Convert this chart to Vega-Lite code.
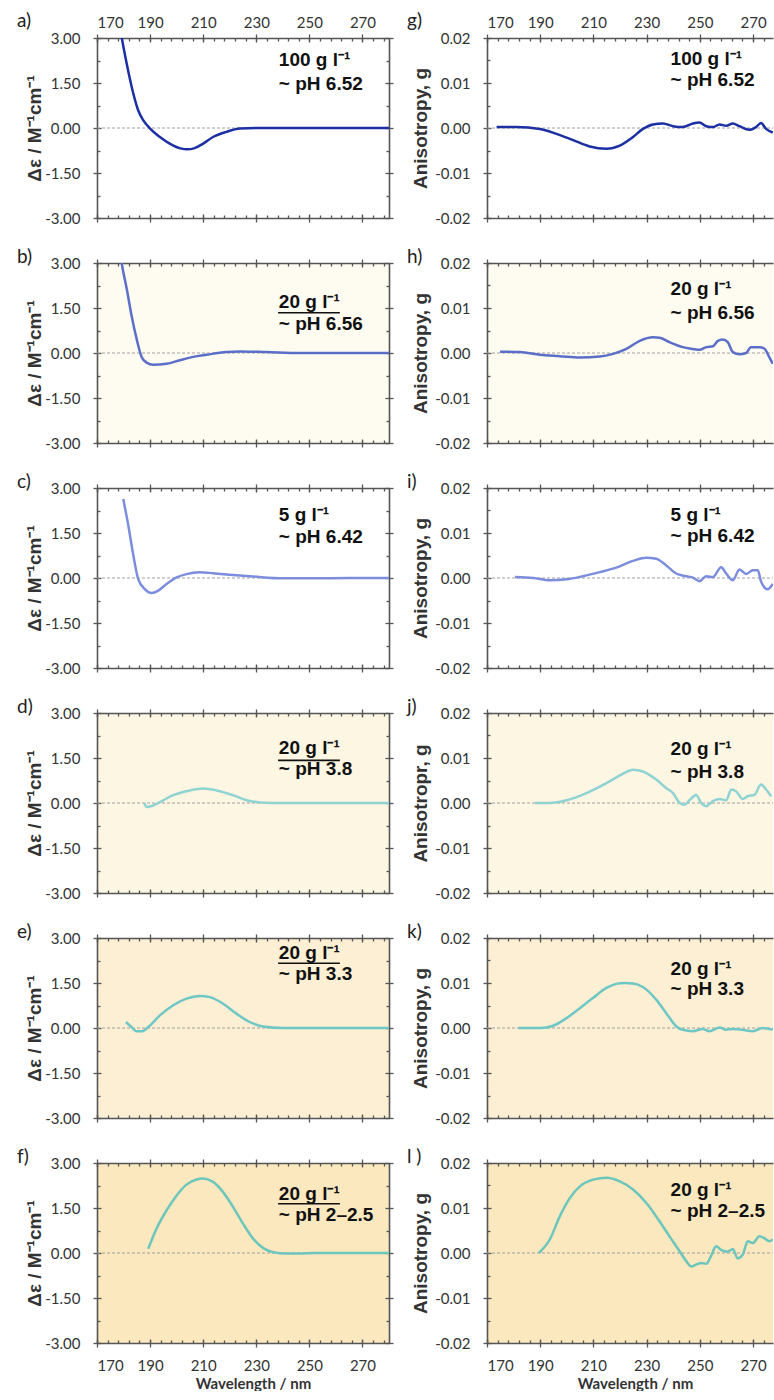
{
"$schema": "https://vega.github.io/schema/vega-lite/v6.json",
"background": "white",
"padding": {"left": 17, "top": 12, "right": 0, "bottom": 0},
"autosize": {"type": "pad"},
"columns": 2,
"spacing": {"row": 45, "column": 98},
"bounds": "flush",
"datasets": {
"a": [{"wl":178.8,"v":3.3},{"wl":179.3,"v":3.03},{"wl":181.2,"v":2.14},{"wl":183.7,"v":1.14},{"wl":185.5,"v":0.59},{"wl":187.4,"v":0.26},{"wl":190,"v":-0.02},{"wl":193.7,"v":-0.3},{"wl":197.4,"v":-0.52},{"wl":201.5,"v":-0.68},{"wl":204,"v":-0.71},{"wl":206.5,"v":-0.68},{"wl":210,"v":-0.52},{"wl":213.7,"v":-0.3},{"wl":218.7,"v":-0.13},{"wl":223.8,"v":-0.02},{"wl":230,"v":0},{"wl":240,"v":0},{"wl":250,"v":0},{"wl":260,"v":0},{"wl":270,"v":0},{"wl":280,"v":0}],
"b": [{"wl":178.8,"v":3.3},{"wl":179.3,"v":3.0},{"wl":181.2,"v":2.14},{"wl":183.0,"v":1.26},{"wl":184.9,"v":0.48},{"wl":186.8,"v":-0.13},{"wl":188.7,"v":-0.32},{"wl":191.2,"v":-0.39},{"wl":196.2,"v":-0.36},{"wl":201.2,"v":-0.24},{"wl":206.2,"v":-0.13},{"wl":211.2,"v":-0.06},{"wl":218.7,"v":0.03},{"wl":223.8,"v":0.05},{"wl":233.8,"v":0.03},{"wl":246.3,"v":0},{"wl":260,"v":0},{"wl":280,"v":0}],
"c": [{"wl":179.9,"v":2.63},{"wl":181.8,"v":1.75},{"wl":183.7,"v":0.75},{"wl":185.5,"v":-0.03},{"wl":188.0,"v":-0.37},{"wl":190.6,"v":-0.5},{"wl":193.1,"v":-0.42},{"wl":196.2,"v":-0.2},{"wl":200,"v":0.02},{"wl":203.7,"v":0.13},{"wl":208.7,"v":0.19},{"wl":213.7,"v":0.16},{"wl":221.3,"v":0.1},{"wl":228.8,"v":0.05},{"wl":240,"v":-0.01},{"wl":252.6,"v":-0.01},{"wl":265,"v":0},{"wl":280,"v":0}],
"d": [{"wl":187.8,"v":0.0},{"wl":188.7,"v":-0.13},{"wl":190.6,"v":-0.1},{"wl":193.7,"v":0.03},{"wl":198.7,"v":0.26},{"wl":205,"v":0.42},{"wl":210,"v":0.48},{"wl":215,"v":0.42},{"wl":221.3,"v":0.26},{"wl":226.3,"v":0.09},{"wl":231.3,"v":0.02},{"wl":240,"v":0},{"wl":260,"v":0},{"wl":280,"v":0}],
"e": [{"wl":180.9,"v":0.2},{"wl":183,"v":0.03},{"wl":184.9,"v":-0.11},{"wl":186.8,"v":-0.11},{"wl":189.3,"v":0.03},{"wl":193.7,"v":0.42},{"wl":198.7,"v":0.76},{"wl":203.7,"v":0.98},{"wl":208.7,"v":1.07},{"wl":212.5,"v":1.03},{"wl":217.5,"v":0.81},{"wl":222.5,"v":0.48},{"wl":227.5,"v":0.2},{"wl":232.5,"v":0.05},{"wl":240,"v":0},{"wl":260,"v":0},{"wl":280,"v":0}],
"f": [{"wl":189.3,"v":0.14},{"wl":192.4,"v":0.81},{"wl":196.2,"v":1.42},{"wl":200,"v":1.92},{"wl":203.7,"v":2.28},{"wl":207.5,"v":2.45},{"wl":210,"v":2.48},{"wl":213.7,"v":2.37},{"wl":217.5,"v":2.03},{"wl":221.3,"v":1.53},{"wl":225,"v":0.98},{"wl":228.8,"v":0.48},{"wl":232.5,"v":0.17},{"wl":236.3,"v":0.03},{"wl":241.3,"v":-0.02},{"wl":246,"v":-0.02},{"wl":252,"v":0},{"wl":280,"v":0}],
"g": [{"wl":173.6,"v":0.0002},{"wl":181.1,"v":0.0002},{"wl":189.9,"v":-0.0002},{"wl":196.1,"v":-0.0013},{"wl":202.4,"v":-0.0027},{"wl":208.6,"v":-0.0041},{"wl":214.9,"v":-0.0046},{"wl":219.9,"v":-0.0039},{"wl":224.9,"v":-0.002},{"wl":228.6,"v":-0.0002},{"wl":232.4,"v":0.0008},{"wl":236.1,"v":0.001},{"wl":239.9,"v":0.0004},{"wl":243.6,"v":0.0002},{"wl":247.4,"v":0.001},{"wl":249.9,"v":0.0012},{"wl":252.4,"v":0.0004},{"wl":254.9,"v":0.0002},{"wl":257.4,"v":0.0008},{"wl":259.9,"v":0.0005},{"wl":262.4,"v":0.001},{"wl":264.9,"v":0.0004},{"wl":268.6,"v":-0.0004},{"wl":271.1,"v":0.0002},{"wl":273.0,"v":0.0011},{"wl":274.9,"v":-0.0002},{"wl":277.4,"v":-0.001}],
"h": [{"wl":174.9,"v":0.0003},{"wl":182.4,"v":0.0002},{"wl":189.9,"v":-0.0004},{"wl":197.4,"v":-0.0007},{"wl":204.9,"v":-0.001},{"wl":212.4,"v":-0.0008},{"wl":217.4,"v":-0.0002},{"wl":222.4,"v":0.0009},{"wl":227.4,"v":0.0027},{"wl":232.4,"v":0.0035},{"wl":234.9,"v":0.0034},{"wl":238.6,"v":0.0024},{"wl":243.6,"v":0.0013},{"wl":247.4,"v":0.0009},{"wl":249.9,"v":0.0007},{"wl":252.4,"v":0.0013},{"wl":254.9,"v":0.0015},{"wl":256.8,"v":0.0027},{"wl":258.6,"v":0.003},{"wl":260.5,"v":0.0024},{"wl":262.4,"v":0.0002},{"wl":264.9,"v":-0.0003},{"wl":267.4,"v":0},{"wl":269.2,"v":0.0013},{"wl":272.4,"v":0.0013},{"wl":274.2,"v":0.001},{"wl":276.1,"v":-0.0009},{"wl":277.4,"v":-0.0024}],
"i": [{"wl":180.5,"v":0.0002},{"wl":187.4,"v":0},{"wl":193.6,"v":-0.0005},{"wl":199.9,"v":-0.0003},{"wl":206.1,"v":0.0004},{"wl":212.4,"v":0.0013},{"wl":218.6,"v":0.0023},{"wl":224.9,"v":0.0038},{"wl":229.9,"v":0.0045},{"wl":233.6,"v":0.0043},{"wl":237.4,"v":0.0028},{"wl":241.1,"v":0.001},{"wl":244.9,"v":0.0004},{"wl":247.4,"v":0.0001},{"wl":249.9,"v":-0.0007},{"wl":252.4,"v":0.0004},{"wl":254.9,"v":0.0002},{"wl":258.0,"v":0.0024},{"wl":259.9,"v":0.001},{"wl":262.4,"v":-0.0005},{"wl":264.9,"v":0.0019},{"wl":267.4,"v":0.0009},{"wl":269.9,"v":0.0017},{"wl":271.8,"v":0.0017},{"wl":273.0,"v":-0.0008},{"wl":275.5,"v":-0.0025},{"wl":277.4,"v":-0.0013}],
"j": [{"wl":188,"v":0},{"wl":193.6,"v":0},{"wl":199.9,"v":0.0006},{"wl":207.4,"v":0.0022},{"wl":214.9,"v":0.0044},{"wl":221.1,"v":0.0065},{"wl":224.9,"v":0.0074},{"wl":228.6,"v":0.007},{"wl":233.6,"v":0.0052},{"wl":237.4,"v":0.0033},{"wl":239.9,"v":0.0022},{"wl":242.4,"v":0},{"wl":244.2,"v":-0.0004},{"wl":246.1,"v":0.0006},{"wl":248.6,"v":0.0018},{"wl":250.5,"v":0},{"wl":252.4,"v":-0.0007},{"wl":254.9,"v":0.0004},{"wl":257.4,"v":0.0009},{"wl":259.9,"v":0.0006},{"wl":261.8,"v":0.003},{"wl":263.6,"v":0.0026},{"wl":266.1,"v":0.0009},{"wl":268.0,"v":0.0015},{"wl":270.5,"v":0.0018},{"wl":273.0,"v":0.0041},{"wl":274.9,"v":0.003},{"wl":276.8,"v":0.0015}],
"k": [{"wl":181.8,"v":0},{"wl":189.9,"v":0},{"wl":194.9,"v":0.0005},{"wl":199.9,"v":0.0022},{"wl":204.9,"v":0.0044},{"wl":209.9,"v":0.0067},{"wl":214.9,"v":0.0089},{"wl":218.6,"v":0.0098},{"wl":221.8,"v":0.0100},{"wl":224.9,"v":0.0099},{"wl":228.6,"v":0.0091},{"wl":233.6,"v":0.0063},{"wl":237.4,"v":0.0033},{"wl":241.1,"v":0.0004},{"wl":243.6,"v":-0.0004},{"wl":247.4,"v":-0.0007},{"wl":251.1,"v":-0.0002},{"wl":253.6,"v":-0.0007},{"wl":257.4,"v":0.0001},{"wl":259.9,"v":-0.0004},{"wl":262.4,"v":-0.0002},{"wl":266.1,"v":-0.0004},{"wl":269.9,"v":-0.0007},{"wl":273.6,"v":0},{"wl":277.4,"v":-0.0004}],
"l": [{"wl":189.5,"v":0},{"wl":193.6,"v":0.003},{"wl":197.4,"v":0.0082},{"wl":201.1,"v":0.0122},{"wl":204.9,"v":0.0148},{"wl":209.9,"v":0.0163},{"wl":214.9,"v":0.0167},{"wl":219.9,"v":0.0159},{"wl":224.9,"v":0.0141},{"wl":229.9,"v":0.0111},{"wl":234.9,"v":0.007},{"wl":238.6,"v":0.0037},{"wl":242.4,"v":0.0004},{"wl":244.9,"v":-0.0018},{"wl":246.8,"v":-0.003},{"wl":248.6,"v":-0.0026},{"wl":250.5,"v":-0.0022},{"wl":252.4,"v":-0.0024},{"wl":254.2,"v":-0.0007},{"wl":256.1,"v":0.0015},{"wl":258.0,"v":0.0007},{"wl":260.5,"v":0.0003},{"wl":262.4,"v":0.0009},{"wl":264.2,"v":-0.0012},{"wl":266.1,"v":-0.0004},{"wl":268.0,"v":0.0026},{"wl":269.9,"v":0.0022},{"wl":272.4,"v":0.0037},{"wl":274.2,"v":0.0033},{"wl":276.1,"v":0.0026},{"wl":277.4,"v":0.003}]
},
"concat": [
{"width":292,"height":180,"view":{"fill":"#ffffff"},"title":{"text":"a)","dy":20},"resolve":{"axis":{"x":"independent","y":"independent"}},
"layer":[
{"data":{"values":[{}]},"mark":{"type":"rule","color":"#a0a0a0","strokeDash":[3,2]},"encoding":{"x":{"datum":170,"type":"quantitative","scale":{"domain":[170,280],"nice":false,"zero":false},"axis":{"orient":"top","values":[170,190,210,230,250,270],"tickSize":8,"offset":-4,"domain":false,"labelPadding":4,"labelOverlap":false,"title":null}},"x2":{"datum":280},"y":{"datum":0,"type":"quantitative","scale":{"domain":[-3,3],"nice":false,"zero":false},"axis":{"orient":"right","values":[-3,-1.5,0,1.5,3],"tickSize":8,"offset":-4,"domain":false,"labels":false,"title":null}}}},
{"data":{"name":"a"},"mark":{"type":"line","color":"#1c2fa3","strokeWidth":2.5,"clip":true,"interpolate":"monotone"},"encoding":{"x":{"field":"wl","type":"quantitative","scale":{"domain":[170,280],"nice":false,"zero":false},"axis":{"orient":"bottom","values":[170,190,210,230,250,270],"tickSize":8,"offset":-4,"domain":false,"labels":false,"title":null}},"y":{"field":"v","type":"quantitative","scale":{"domain":[-3,3],"nice":false,"zero":false},"axis":{"orient":"left","values":[-3,-1.5,0,1.5,3],"format":".2f","labelExpr":"replace(datum.label,'−','-')","tickSize":8,"offset":-4,"domain":false,"labelPadding":13,"labelOverlap":false,"title":"Δε / M⁻¹cm⁻¹","titlePadding":0}}}},
{"data":{"values":[{}]},"mark":{"type":"text","text":"100 g l⁻¹"},"encoding":{"x":{"datum":238.5,"type":"quantitative","scale":{"domain":[170,280],"nice":false,"zero":false},"axis":{"orient":"bottom","values":[170,174,178,182,186,190,194,198,202,206,210,214,218,222,226,230,234,238,242,246,250,254,258,262,266,270,274,278],"tickSize":-3,"labels":false,"title":null}},"y":{"datum":2.27,"type":"quantitative","scale":{"domain":[-3,3],"nice":false,"zero":false},"axis":{"orient":"left","values":[-2.25,-0.75,0.75,2.25],"tickSize":-3,"labels":false,"title":null}}}},
{"data":{"values":[{}]},"mark":{"type":"text","text":"~ pH 6.52"},"encoding":{"x":{"datum":238.5,"type":"quantitative","scale":{"domain":[170,280],"nice":false,"zero":false},"axis":{"orient":"top","values":[170,174,178,182,186,190,194,198,202,206,210,214,218,222,226,230,234,238,242,246,250,254,258,262,266,270,274,278],"tickSize":-3,"labels":false,"title":null}},"y":{"datum":1.47,"type":"quantitative","scale":{"domain":[-3,3],"nice":false,"zero":false},"axis":{"orient":"right","values":[-2.25,-0.75,0.75,2.25],"tickSize":-3,"labels":false,"title":null}}}}
]},
{"width":286,"height":180,"view":{"fill":"#ffffff"},"title":{"text":"g)","dy":20},"resolve":{"axis":{"x":"independent","y":"independent"}},
"layer":[
{"data":{"values":[{}]},"mark":{"type":"rule","color":"#a0a0a0","strokeDash":[3,2]},"encoding":{"x":{"datum":170,"type":"quantitative","scale":{"domain":[170,277.5],"nice":false,"zero":false},"axis":{"orient":"top","values":[170,190,210,230,250,270],"tickSize":8,"offset":-4,"domain":false,"labelPadding":4,"labelOverlap":false,"title":null}},"x2":{"datum":277.5},"y":{"datum":0,"type":"quantitative","scale":{"domain":[-0.02,0.02],"nice":false,"zero":false},"axis":null}}},
{"data":{"name":"g"},"mark":{"type":"line","color":"#1c2fa3","strokeWidth":2.5,"clip":true,"interpolate":"monotone"},"encoding":{"x":{"field":"wl","type":"quantitative","scale":{"domain":[170,277.5],"nice":false,"zero":false},"axis":{"orient":"bottom","values":[170,190,210,230,250,270],"tickSize":8,"offset":-4,"domain":false,"labels":false,"title":null}},"y":{"field":"v","type":"quantitative","scale":{"domain":[-0.02,0.02],"nice":false,"zero":false},"axis":{"orient":"left","values":[-0.02,-0.01,0,0.01,0.02],"format":".2f","labelExpr":"replace(datum.label,'−','-')","tickSize":8,"offset":-4,"domain":false,"labelPadding":13,"labelOverlap":false,"title":"Anisotropy, g","titlePadding":4}}}},
{"data":{"values":[{}]},"mark":{"type":"text","text":"100 g l⁻¹"},"encoding":{"x":{"datum":239,"type":"quantitative","scale":{"domain":[170,277.5],"nice":false,"zero":false},"axis":{"orient":"bottom","values":[170,174,178,182,186,190,194,198,202,206,210,214,218,222,226,230,234,238,242,246,250,254,258,262,266,270,274],"tickSize":-3,"labels":false,"title":null}},"y":{"datum":0.0154,"type":"quantitative","scale":{"domain":[-0.02,0.02],"nice":false,"zero":false},"axis":{"orient":"left","values":[-0.015,-0.005,0.005,0.015],"tickSize":-3,"labels":false,"title":null}}}},
{"data":{"values":[{}]},"mark":{"type":"text","text":"~ pH 6.52"},"encoding":{"x":{"datum":239,"type":"quantitative","scale":{"domain":[170,277.5],"nice":false,"zero":false},"axis":{"orient":"top","values":[170,174,178,182,186,190,194,198,202,206,210,214,218,222,226,230,234,238,242,246,250,254,258,262,266,270,274],"tickSize":-3,"labels":false,"title":null}},"y":{"datum":0.0106,"type":"quantitative","scale":{"domain":[-0.02,0.02],"nice":false,"zero":false},"axis":null}}}
]},
{"width":292,"height":180,"view":{"fill":"#fefbf1"},"title":{"text":"b)","dy":15},"resolve":{"axis":{"x":"independent","y":"independent"}},
"layer":[
{"data":{"values":[{}]},"mark":{"type":"rule","color":"#a0a0a0","strokeDash":[3,2]},"encoding":{"x":{"datum":170,"type":"quantitative","scale":{"domain":[170,280],"nice":false,"zero":false},"axis":{"orient":"top","values":[170,190,210,230,250,270],"tickSize":8,"offset":-4,"domain":false,"labels":false,"title":null}},"x2":{"datum":280},"y":{"datum":0,"type":"quantitative","scale":{"domain":[-3,3],"nice":false,"zero":false},"axis":{"orient":"right","values":[-3,-1.5,0,1.5,3],"tickSize":8,"offset":-4,"domain":false,"labels":false,"title":null}}}},
{"data":{"name":"b"},"mark":{"type":"line","color":"#5b6fc9","strokeWidth":2.5,"clip":true,"interpolate":"monotone"},"encoding":{"x":{"field":"wl","type":"quantitative","scale":{"domain":[170,280],"nice":false,"zero":false},"axis":{"orient":"bottom","values":[170,190,210,230,250,270],"tickSize":8,"offset":-4,"domain":false,"labels":false,"title":null}},"y":{"field":"v","type":"quantitative","scale":{"domain":[-3,3],"nice":false,"zero":false},"axis":{"orient":"left","values":[-3,-1.5,0,1.5,3],"format":".2f","labelExpr":"replace(datum.label,'−','-')","tickSize":8,"offset":-4,"domain":false,"labelPadding":13,"labelOverlap":false,"title":"Δε / M⁻¹cm⁻¹","titlePadding":0}}}},
{"data":{"values":[{}]},"mark":{"type":"text","text":"20 g l⁻¹"},"encoding":{"x":{"datum":238.5,"type":"quantitative","scale":{"domain":[170,280],"nice":false,"zero":false},"axis":{"orient":"bottom","values":[170,174,178,182,186,190,194,198,202,206,210,214,218,222,226,230,234,238,242,246,250,254,258,262,266,270,274,278],"tickSize":-3,"labels":false,"title":null}},"y":{"datum":1.7,"type":"quantitative","scale":{"domain":[-3,3],"nice":false,"zero":false},"axis":{"orient":"left","values":[-2.25,-0.75,0.75,2.25],"tickSize":-3,"labels":false,"title":null}}}},
{"data":{"values":[{}]},"mark":{"type":"text","text":"~ pH 6.56"},"encoding":{"x":{"datum":238.5,"type":"quantitative","scale":{"domain":[170,280],"nice":false,"zero":false},"axis":{"orient":"top","values":[170,174,178,182,186,190,194,198,202,206,210,214,218,222,226,230,234,238,242,246,250,254,258,262,266,270,274,278],"tickSize":-3,"labels":false,"title":null}},"y":{"datum":0.98,"type":"quantitative","scale":{"domain":[-3,3],"nice":false,"zero":false},"axis":{"orient":"right","values":[-2.25,-0.75,0.75,2.25],"tickSize":-3,"labels":false,"title":null}}}},
{"data":{"values":[{}]},"mark":{"type":"rule","color":"#111111","strokeWidth":1.6},"encoding":{"x":{"datum":238.2,"type":"quantitative","scale":{"domain":[170,280],"nice":false,"zero":false},"axis":null},"x2":{"datum":261.5},"y":{"datum":1.34,"type":"quantitative","scale":{"domain":[-3,3],"nice":false,"zero":false},"axis":null}}}
]},
{"width":286,"height":180,"view":{"fill":"#fefbf1"},"title":{"text":"h)","dy":15},"resolve":{"axis":{"x":"independent","y":"independent"}},
"layer":[
{"data":{"values":[{}]},"mark":{"type":"rule","color":"#a0a0a0","strokeDash":[3,2]},"encoding":{"x":{"datum":170,"type":"quantitative","scale":{"domain":[170,277.5],"nice":false,"zero":false},"axis":{"orient":"top","values":[170,190,210,230,250,270],"tickSize":8,"offset":-4,"domain":false,"labels":false,"title":null}},"x2":{"datum":277.5},"y":{"datum":0,"type":"quantitative","scale":{"domain":[-0.02,0.02],"nice":false,"zero":false},"axis":null}}},
{"data":{"name":"h"},"mark":{"type":"line","color":"#5b6fc9","strokeWidth":2.5,"clip":true,"interpolate":"monotone"},"encoding":{"x":{"field":"wl","type":"quantitative","scale":{"domain":[170,277.5],"nice":false,"zero":false},"axis":{"orient":"bottom","values":[170,190,210,230,250,270],"tickSize":8,"offset":-4,"domain":false,"labels":false,"title":null}},"y":{"field":"v","type":"quantitative","scale":{"domain":[-0.02,0.02],"nice":false,"zero":false},"axis":{"orient":"left","values":[-0.02,-0.01,0,0.01,0.02],"format":".2f","labelExpr":"replace(datum.label,'−','-')","tickSize":8,"offset":-4,"domain":false,"labelPadding":13,"labelOverlap":false,"title":"Anisotropy, g","titlePadding":4}}}},
{"data":{"values":[{}]},"mark":{"type":"text","text":"20 g l⁻¹"},"encoding":{"x":{"datum":239,"type":"quantitative","scale":{"domain":[170,277.5],"nice":false,"zero":false},"axis":{"orient":"bottom","values":[170,174,178,182,186,190,194,198,202,206,210,214,218,222,226,230,234,238,242,246,250,254,258,262,266,270,274],"tickSize":-3,"labels":false,"title":null}},"y":{"datum":0.0142,"type":"quantitative","scale":{"domain":[-0.02,0.02],"nice":false,"zero":false},"axis":{"orient":"left","values":[-0.015,-0.005,0.005,0.015],"tickSize":-3,"labels":false,"title":null}}}},
{"data":{"values":[{}]},"mark":{"type":"text","text":"~ pH 6.56"},"encoding":{"x":{"datum":239,"type":"quantitative","scale":{"domain":[170,277.5],"nice":false,"zero":false},"axis":{"orient":"top","values":[170,174,178,182,186,190,194,198,202,206,210,214,218,222,226,230,234,238,242,246,250,254,258,262,266,270,274],"tickSize":-3,"labels":false,"title":null}},"y":{"datum":0.009,"type":"quantitative","scale":{"domain":[-0.02,0.02],"nice":false,"zero":false},"axis":null}}}
]},
{"width":292,"height":180,"view":{"fill":"#ffffff"},"title":{"text":"c)","dy":15},"resolve":{"axis":{"x":"independent","y":"independent"}},
"layer":[
{"data":{"values":[{}]},"mark":{"type":"rule","color":"#a0a0a0","strokeDash":[3,2]},"encoding":{"x":{"datum":170,"type":"quantitative","scale":{"domain":[170,280],"nice":false,"zero":false},"axis":{"orient":"top","values":[170,190,210,230,250,270],"tickSize":8,"offset":-4,"domain":false,"labels":false,"title":null}},"x2":{"datum":280},"y":{"datum":0,"type":"quantitative","scale":{"domain":[-3,3],"nice":false,"zero":false},"axis":{"orient":"right","values":[-3,-1.5,0,1.5,3],"tickSize":8,"offset":-4,"domain":false,"labels":false,"title":null}}}},
{"data":{"name":"c"},"mark":{"type":"line","color":"#7b8ddc","strokeWidth":2.5,"clip":true,"interpolate":"monotone"},"encoding":{"x":{"field":"wl","type":"quantitative","scale":{"domain":[170,280],"nice":false,"zero":false},"axis":{"orient":"bottom","values":[170,190,210,230,250,270],"tickSize":8,"offset":-4,"domain":false,"labels":false,"title":null}},"y":{"field":"v","type":"quantitative","scale":{"domain":[-3,3],"nice":false,"zero":false},"axis":{"orient":"left","values":[-3,-1.5,0,1.5,3],"format":".2f","labelExpr":"replace(datum.label,'−','-')","tickSize":8,"offset":-4,"domain":false,"labelPadding":13,"labelOverlap":false,"title":"Δε / M⁻¹cm⁻¹","titlePadding":0}}}},
{"data":{"values":[{}]},"mark":{"type":"text","text":"5 g l⁻¹"},"encoding":{"x":{"datum":238.5,"type":"quantitative","scale":{"domain":[170,280],"nice":false,"zero":false},"axis":{"orient":"bottom","values":[170,174,178,182,186,190,194,198,202,206,210,214,218,222,226,230,234,238,242,246,250,254,258,262,266,270,274,278],"tickSize":-3,"labels":false,"title":null}},"y":{"datum":2.09,"type":"quantitative","scale":{"domain":[-3,3],"nice":false,"zero":false},"axis":{"orient":"left","values":[-2.25,-0.75,0.75,2.25],"tickSize":-3,"labels":false,"title":null}}}},
{"data":{"values":[{}]},"mark":{"type":"text","text":"~ pH 6.42"},"encoding":{"x":{"datum":238.5,"type":"quantitative","scale":{"domain":[170,280],"nice":false,"zero":false},"axis":{"orient":"top","values":[170,174,178,182,186,190,194,198,202,206,210,214,218,222,226,230,234,238,242,246,250,254,258,262,266,270,274,278],"tickSize":-3,"labels":false,"title":null}},"y":{"datum":1.36,"type":"quantitative","scale":{"domain":[-3,3],"nice":false,"zero":false},"axis":{"orient":"right","values":[-2.25,-0.75,0.75,2.25],"tickSize":-3,"labels":false,"title":null}}}}
]},
{"width":286,"height":180,"view":{"fill":"#ffffff"},"title":{"text":"i)","dy":15},"resolve":{"axis":{"x":"independent","y":"independent"}},
"layer":[
{"data":{"values":[{}]},"mark":{"type":"rule","color":"#a0a0a0","strokeDash":[3,2]},"encoding":{"x":{"datum":170,"type":"quantitative","scale":{"domain":[170,277.5],"nice":false,"zero":false},"axis":{"orient":"top","values":[170,190,210,230,250,270],"tickSize":8,"offset":-4,"domain":false,"labels":false,"title":null}},"x2":{"datum":277.5},"y":{"datum":0,"type":"quantitative","scale":{"domain":[-0.02,0.02],"nice":false,"zero":false},"axis":null}}},
{"data":{"name":"i"},"mark":{"type":"line","color":"#7b8ddc","strokeWidth":2.5,"clip":true,"interpolate":"monotone"},"encoding":{"x":{"field":"wl","type":"quantitative","scale":{"domain":[170,277.5],"nice":false,"zero":false},"axis":{"orient":"bottom","values":[170,190,210,230,250,270],"tickSize":8,"offset":-4,"domain":false,"labels":false,"title":null}},"y":{"field":"v","type":"quantitative","scale":{"domain":[-0.02,0.02],"nice":false,"zero":false},"axis":{"orient":"left","values":[-0.02,-0.01,0,0.01,0.02],"format":".2f","labelExpr":"replace(datum.label,'−','-')","tickSize":8,"offset":-4,"domain":false,"labelPadding":13,"labelOverlap":false,"title":"Anisotropy, g","titlePadding":4}}}},
{"data":{"values":[{}]},"mark":{"type":"text","text":"5 g l⁻¹"},"encoding":{"x":{"datum":239,"type":"quantitative","scale":{"domain":[170,277.5],"nice":false,"zero":false},"axis":{"orient":"bottom","values":[170,174,178,182,186,190,194,198,202,206,210,214,218,222,226,230,234,238,242,246,250,254,258,262,266,270,274],"tickSize":-3,"labels":false,"title":null}},"y":{"datum":0.0141,"type":"quantitative","scale":{"domain":[-0.02,0.02],"nice":false,"zero":false},"axis":{"orient":"left","values":[-0.015,-0.005,0.005,0.015],"tickSize":-3,"labels":false,"title":null}}}},
{"data":{"values":[{}]},"mark":{"type":"text","text":"~ pH 6.42"},"encoding":{"x":{"datum":239,"type":"quantitative","scale":{"domain":[170,277.5],"nice":false,"zero":false},"axis":{"orient":"top","values":[170,174,178,182,186,190,194,198,202,206,210,214,218,222,226,230,234,238,242,246,250,254,258,262,266,270,274],"tickSize":-3,"labels":false,"title":null}},"y":{"datum":0.0093,"type":"quantitative","scale":{"domain":[-0.02,0.02],"nice":false,"zero":false},"axis":null}}}
]},
{"width":292,"height":180,"view":{"fill":"#fdf6e3"},"title":{"text":"d)","dy":15},"resolve":{"axis":{"x":"independent","y":"independent"}},
"layer":[
{"data":{"values":[{}]},"mark":{"type":"rule","color":"#a0a0a0","strokeDash":[3,2]},"encoding":{"x":{"datum":170,"type":"quantitative","scale":{"domain":[170,280],"nice":false,"zero":false},"axis":{"orient":"top","values":[170,190,210,230,250,270],"tickSize":8,"offset":-4,"domain":false,"labels":false,"title":null}},"x2":{"datum":280},"y":{"datum":0,"type":"quantitative","scale":{"domain":[-3,3],"nice":false,"zero":false},"axis":{"orient":"right","values":[-3,-1.5,0,1.5,3],"tickSize":8,"offset":-4,"domain":false,"labels":false,"title":null}}}},
{"data":{"name":"d"},"mark":{"type":"line","color":"#8fd3d3","strokeWidth":2.5,"clip":true,"interpolate":"monotone"},"encoding":{"x":{"field":"wl","type":"quantitative","scale":{"domain":[170,280],"nice":false,"zero":false},"axis":{"orient":"bottom","values":[170,190,210,230,250,270],"tickSize":8,"offset":-4,"domain":false,"labels":false,"title":null}},"y":{"field":"v","type":"quantitative","scale":{"domain":[-3,3],"nice":false,"zero":false},"axis":{"orient":"left","values":[-3,-1.5,0,1.5,3],"format":".2f","labelExpr":"replace(datum.label,'−','-')","tickSize":8,"offset":-4,"domain":false,"labelPadding":13,"labelOverlap":false,"title":"Δε / M⁻¹cm⁻¹","titlePadding":0}}}},
{"data":{"values":[{}]},"mark":{"type":"text","text":"20 g l⁻¹"},"encoding":{"x":{"datum":238.5,"type":"quantitative","scale":{"domain":[170,280],"nice":false,"zero":false},"axis":{"orient":"bottom","values":[170,174,178,182,186,190,194,198,202,206,210,214,218,222,226,230,234,238,242,246,250,254,258,262,266,270,274,278],"tickSize":-3,"labels":false,"title":null}},"y":{"datum":1.82,"type":"quantitative","scale":{"domain":[-3,3],"nice":false,"zero":false},"axis":{"orient":"left","values":[-2.25,-0.75,0.75,2.25],"tickSize":-3,"labels":false,"title":null}}}},
{"data":{"values":[{}]},"mark":{"type":"text","text":"~ pH 3.8"},"encoding":{"x":{"datum":238.5,"type":"quantitative","scale":{"domain":[170,280],"nice":false,"zero":false},"axis":{"orient":"top","values":[170,174,178,182,186,190,194,198,202,206,210,214,218,222,226,230,234,238,242,246,250,254,258,262,266,270,274,278],"tickSize":-3,"labels":false,"title":null}},"y":{"datum":1.12,"type":"quantitative","scale":{"domain":[-3,3],"nice":false,"zero":false},"axis":{"orient":"right","values":[-2.25,-0.75,0.75,2.25],"tickSize":-3,"labels":false,"title":null}}}},
{"data":{"values":[{}]},"mark":{"type":"rule","color":"#111111","strokeWidth":1.6},"encoding":{"x":{"datum":238.2,"type":"quantitative","scale":{"domain":[170,280],"nice":false,"zero":false},"axis":null},"x2":{"datum":261.5},"y":{"datum":1.42,"type":"quantitative","scale":{"domain":[-3,3],"nice":false,"zero":false},"axis":null}}}
]},
{"width":286,"height":180,"view":{"fill":"#fdf6e3"},"title":{"text":"j)","dy":15},"resolve":{"axis":{"x":"independent","y":"independent"}},
"layer":[
{"data":{"values":[{}]},"mark":{"type":"rule","color":"#a0a0a0","strokeDash":[3,2]},"encoding":{"x":{"datum":170,"type":"quantitative","scale":{"domain":[170,277.5],"nice":false,"zero":false},"axis":{"orient":"top","values":[170,190,210,230,250,270],"tickSize":8,"offset":-4,"domain":false,"labels":false,"title":null}},"x2":{"datum":277.5},"y":{"datum":0,"type":"quantitative","scale":{"domain":[-0.02,0.02],"nice":false,"zero":false},"axis":null}}},
{"data":{"name":"j"},"mark":{"type":"line","color":"#8fd3d3","strokeWidth":2.5,"clip":true,"interpolate":"monotone"},"encoding":{"x":{"field":"wl","type":"quantitative","scale":{"domain":[170,277.5],"nice":false,"zero":false},"axis":{"orient":"bottom","values":[170,190,210,230,250,270],"tickSize":8,"offset":-4,"domain":false,"labels":false,"title":null}},"y":{"field":"v","type":"quantitative","scale":{"domain":[-0.02,0.02],"nice":false,"zero":false},"axis":{"orient":"left","values":[-0.02,-0.01,0,0.01,0.02],"format":".2f","labelExpr":"replace(datum.label,'−','-')","tickSize":8,"offset":-4,"domain":false,"labelPadding":13,"labelOverlap":false,"title":"Anisotropr, g","titlePadding":4}}}},
{"data":{"values":[{}]},"mark":{"type":"text","text":"20 g l⁻¹"},"encoding":{"x":{"datum":239,"type":"quantitative","scale":{"domain":[170,277.5],"nice":false,"zero":false},"axis":{"orient":"bottom","values":[170,174,178,182,186,190,194,198,202,206,210,214,218,222,226,230,234,238,242,246,250,254,258,262,266,270,274],"tickSize":-3,"labels":false,"title":null}},"y":{"datum":0.0121,"type":"quantitative","scale":{"domain":[-0.02,0.02],"nice":false,"zero":false},"axis":{"orient":"left","values":[-0.015,-0.005,0.005,0.015],"tickSize":-3,"labels":false,"title":null}}}},
{"data":{"values":[{}]},"mark":{"type":"text","text":"~ pH 3.8"},"encoding":{"x":{"datum":239,"type":"quantitative","scale":{"domain":[170,277.5],"nice":false,"zero":false},"axis":{"orient":"top","values":[170,174,178,182,186,190,194,198,202,206,210,214,218,222,226,230,234,238,242,246,250,254,258,262,266,270,274],"tickSize":-3,"labels":false,"title":null}},"y":{"datum":0.0068,"type":"quantitative","scale":{"domain":[-0.02,0.02],"nice":false,"zero":false},"axis":null}}}
]},
{"width":292,"height":180,"view":{"fill":"#fcefd3"},"title":{"text":"e)","dy":15},"resolve":{"axis":{"x":"independent","y":"independent"}},
"layer":[
{"data":{"values":[{}]},"mark":{"type":"rule","color":"#a0a0a0","strokeDash":[3,2]},"encoding":{"x":{"datum":170,"type":"quantitative","scale":{"domain":[170,280],"nice":false,"zero":false},"axis":{"orient":"top","values":[170,190,210,230,250,270],"tickSize":8,"offset":-4,"domain":false,"labels":false,"title":null}},"x2":{"datum":280},"y":{"datum":0,"type":"quantitative","scale":{"domain":[-3,3],"nice":false,"zero":false},"axis":{"orient":"right","values":[-3,-1.5,0,1.5,3],"tickSize":8,"offset":-4,"domain":false,"labels":false,"title":null}}}},
{"data":{"name":"e"},"mark":{"type":"line","color":"#6ec7c4","strokeWidth":2.5,"clip":true,"interpolate":"monotone"},"encoding":{"x":{"field":"wl","type":"quantitative","scale":{"domain":[170,280],"nice":false,"zero":false},"axis":{"orient":"bottom","values":[170,190,210,230,250,270],"tickSize":8,"offset":-4,"domain":false,"labels":false,"title":null}},"y":{"field":"v","type":"quantitative","scale":{"domain":[-3,3],"nice":false,"zero":false},"axis":{"orient":"left","values":[-3,-1.5,0,1.5,3],"format":".2f","labelExpr":"replace(datum.label,'−','-')","tickSize":8,"offset":-4,"domain":false,"labelPadding":13,"labelOverlap":false,"title":"Δε / M⁻¹cm⁻¹","titlePadding":0}}}},
{"data":{"values":[{}]},"mark":{"type":"text","text":"20 g l⁻¹"},"encoding":{"x":{"datum":238.5,"type":"quantitative","scale":{"domain":[170,280],"nice":false,"zero":false},"axis":{"orient":"bottom","values":[170,174,178,182,186,190,194,198,202,206,210,214,218,222,226,230,234,238,242,246,250,254,258,262,266,270,274,278],"tickSize":-3,"labels":false,"title":null}},"y":{"datum":2.5,"type":"quantitative","scale":{"domain":[-3,3],"nice":false,"zero":false},"axis":{"orient":"left","values":[-2.25,-0.75,0.75,2.25],"tickSize":-3,"labels":false,"title":null}}}},
{"data":{"values":[{}]},"mark":{"type":"text","text":"~ pH 3.3"},"encoding":{"x":{"datum":238.5,"type":"quantitative","scale":{"domain":[170,280],"nice":false,"zero":false},"axis":{"orient":"top","values":[170,174,178,182,186,190,194,198,202,206,210,214,218,222,226,230,234,238,242,246,250,254,258,262,266,270,274,278],"tickSize":-3,"labels":false,"title":null}},"y":{"datum":1.8,"type":"quantitative","scale":{"domain":[-3,3],"nice":false,"zero":false},"axis":{"orient":"right","values":[-2.25,-0.75,0.75,2.25],"tickSize":-3,"labels":false,"title":null}}}},
{"data":{"values":[{}]},"mark":{"type":"rule","color":"#111111","strokeWidth":1.6},"encoding":{"x":{"datum":238.2,"type":"quantitative","scale":{"domain":[170,280],"nice":false,"zero":false},"axis":null},"x2":{"datum":261.5},"y":{"datum":2.16,"type":"quantitative","scale":{"domain":[-3,3],"nice":false,"zero":false},"axis":null}}}
]},
{"width":286,"height":180,"view":{"fill":"#fcefd3"},"title":{"text":"k)","dy":15},"resolve":{"axis":{"x":"independent","y":"independent"}},
"layer":[
{"data":{"values":[{}]},"mark":{"type":"rule","color":"#a0a0a0","strokeDash":[3,2]},"encoding":{"x":{"datum":170,"type":"quantitative","scale":{"domain":[170,277.5],"nice":false,"zero":false},"axis":{"orient":"top","values":[170,190,210,230,250,270],"tickSize":8,"offset":-4,"domain":false,"labels":false,"title":null}},"x2":{"datum":277.5},"y":{"datum":0,"type":"quantitative","scale":{"domain":[-0.02,0.02],"nice":false,"zero":false},"axis":null}}},
{"data":{"name":"k"},"mark":{"type":"line","color":"#6ec7c4","strokeWidth":2.5,"clip":true,"interpolate":"monotone"},"encoding":{"x":{"field":"wl","type":"quantitative","scale":{"domain":[170,277.5],"nice":false,"zero":false},"axis":{"orient":"bottom","values":[170,190,210,230,250,270],"tickSize":8,"offset":-4,"domain":false,"labels":false,"title":null}},"y":{"field":"v","type":"quantitative","scale":{"domain":[-0.02,0.02],"nice":false,"zero":false},"axis":{"orient":"left","values":[-0.02,-0.01,0,0.01,0.02],"format":".2f","labelExpr":"replace(datum.label,'−','-')","tickSize":8,"offset":-4,"domain":false,"labelPadding":13,"labelOverlap":false,"title":"Anisotropy, g","titlePadding":4}}}},
{"data":{"values":[{}]},"mark":{"type":"text","text":"20 g l⁻¹"},"encoding":{"x":{"datum":239,"type":"quantitative","scale":{"domain":[170,277.5],"nice":false,"zero":false},"axis":{"orient":"bottom","values":[170,174,178,182,186,190,194,198,202,206,210,214,218,222,226,230,234,238,242,246,250,254,258,262,266,270,274],"tickSize":-3,"labels":false,"title":null}},"y":{"datum":0.0131,"type":"quantitative","scale":{"domain":[-0.02,0.02],"nice":false,"zero":false},"axis":{"orient":"left","values":[-0.015,-0.005,0.005,0.015],"tickSize":-3,"labels":false,"title":null}}}},
{"data":{"values":[{}]},"mark":{"type":"text","text":"~ pH 3.3"},"encoding":{"x":{"datum":239,"type":"quantitative","scale":{"domain":[170,277.5],"nice":false,"zero":false},"axis":{"orient":"top","values":[170,174,178,182,186,190,194,198,202,206,210,214,218,222,226,230,234,238,242,246,250,254,258,262,266,270,274],"tickSize":-3,"labels":false,"title":null}},"y":{"datum":0.0087,"type":"quantitative","scale":{"domain":[-0.02,0.02],"nice":false,"zero":false},"axis":null}}}
]},
{"width":292,"height":180,"view":{"fill":"#fbe8bf"},"title":{"text":"f)","dy":15},"resolve":{"axis":{"x":"independent","y":"independent"}},
"layer":[
{"data":{"values":[{}]},"mark":{"type":"rule","color":"#a0a0a0","strokeDash":[3,2]},"encoding":{"x":{"datum":170,"type":"quantitative","scale":{"domain":[170,280],"nice":false,"zero":false},"axis":{"orient":"top","values":[170,190,210,230,250,270],"tickSize":8,"offset":-4,"domain":false,"labels":false,"title":null}},"x2":{"datum":280},"y":{"datum":0,"type":"quantitative","scale":{"domain":[-3,3],"nice":false,"zero":false},"axis":{"orient":"right","values":[-3,-1.5,0,1.5,3],"tickSize":8,"offset":-4,"domain":false,"labels":false,"title":null}}}},
{"data":{"name":"f"},"mark":{"type":"line","color":"#6cc6bc","strokeWidth":2.5,"clip":true,"interpolate":"monotone"},"encoding":{"x":{"field":"wl","type":"quantitative","scale":{"domain":[170,280],"nice":false,"zero":false},"axis":{"orient":"bottom","values":[170,190,210,230,250,270],"tickSize":8,"offset":-4,"domain":false,"labelPadding":11,"labelOverlap":false,"title":"Wavelength / nm","titleFont":"Lato","titleFontSize":15,"titlePadding":3,"titleX":156}},"y":{"field":"v","type":"quantitative","scale":{"domain":[-3,3],"nice":false,"zero":false},"axis":{"orient":"left","values":[-3,-1.5,0,1.5,3],"format":".2f","labelExpr":"replace(datum.label,'−','-')","tickSize":8,"offset":-4,"domain":false,"labelPadding":13,"labelOverlap":false,"title":"Δε / M⁻¹cm⁻¹","titlePadding":0}}}},
{"data":{"values":[{}]},"mark":{"type":"text","text":"20 g l⁻¹"},"encoding":{"x":{"datum":238.5,"type":"quantitative","scale":{"domain":[170,280],"nice":false,"zero":false},"axis":{"orient":"bottom","values":[170,174,178,182,186,190,194,198,202,206,210,214,218,222,226,230,234,238,242,246,250,254,258,262,266,270,274,278],"tickSize":-3,"labels":false,"title":null}},"y":{"datum":1.98,"type":"quantitative","scale":{"domain":[-3,3],"nice":false,"zero":false},"axis":{"orient":"left","values":[-2.25,-0.75,0.75,2.25],"tickSize":-3,"labels":false,"title":null}}}},
{"data":{"values":[{}]},"mark":{"type":"text","text":"~ pH 2–2.5"},"encoding":{"x":{"datum":238.5,"type":"quantitative","scale":{"domain":[170,280],"nice":false,"zero":false},"axis":{"orient":"top","values":[170,174,178,182,186,190,194,198,202,206,210,214,218,222,226,230,234,238,242,246,250,254,258,262,266,270,274,278],"tickSize":-3,"labels":false,"title":null}},"y":{"datum":1.26,"type":"quantitative","scale":{"domain":[-3,3],"nice":false,"zero":false},"axis":{"orient":"right","values":[-2.25,-0.75,0.75,2.25],"tickSize":-3,"labels":false,"title":null}}}},
{"data":{"values":[{}]},"mark":{"type":"rule","color":"#111111","strokeWidth":1.6},"encoding":{"x":{"datum":238.2,"type":"quantitative","scale":{"domain":[170,280],"nice":false,"zero":false},"axis":null},"x2":{"datum":261.5},"y":{"datum":1.64,"type":"quantitative","scale":{"domain":[-3,3],"nice":false,"zero":false},"axis":null}}}
]},
{"width":286,"height":180,"view":{"fill":"#fbe8bf"},"title":{"text":"l )","dy":15},"resolve":{"axis":{"x":"independent","y":"independent"}},
"layer":[
{"data":{"values":[{}]},"mark":{"type":"rule","color":"#a0a0a0","strokeDash":[3,2]},"encoding":{"x":{"datum":170,"type":"quantitative","scale":{"domain":[170,277.5],"nice":false,"zero":false},"axis":{"orient":"top","values":[170,190,210,230,250,270],"tickSize":8,"offset":-4,"domain":false,"labels":false,"title":null}},"x2":{"datum":277.5},"y":{"datum":0,"type":"quantitative","scale":{"domain":[-0.02,0.02],"nice":false,"zero":false},"axis":null}}},
{"data":{"name":"l"},"mark":{"type":"line","color":"#6cc6bc","strokeWidth":2.5,"clip":true,"interpolate":"monotone"},"encoding":{"x":{"field":"wl","type":"quantitative","scale":{"domain":[170,277.5],"nice":false,"zero":false},"axis":{"orient":"bottom","values":[170,190,210,230,250,270],"tickSize":8,"offset":-4,"domain":false,"labelPadding":11,"labelOverlap":false,"title":"Wavelength / nm","titleFont":"Lato","titleFontSize":15,"titlePadding":3,"titleX":148}},"y":{"field":"v","type":"quantitative","scale":{"domain":[-0.02,0.02],"nice":false,"zero":false},"axis":{"orient":"left","values":[-0.02,-0.01,0,0.01,0.02],"format":".2f","labelExpr":"replace(datum.label,'−','-')","tickSize":8,"offset":-4,"domain":false,"labelPadding":13,"labelOverlap":false,"title":"Anisotropy, g","titlePadding":4}}}},
{"data":{"values":[{}]},"mark":{"type":"text","text":"20 g l⁻¹"},"encoding":{"x":{"datum":239,"type":"quantitative","scale":{"domain":[170,277.5],"nice":false,"zero":false},"axis":{"orient":"bottom","values":[170,174,178,182,186,190,194,198,202,206,210,214,218,222,226,230,234,238,242,246,250,254,258,262,266,270,274],"tickSize":-3,"labels":false,"title":null}},"y":{"datum":0.0141,"type":"quantitative","scale":{"domain":[-0.02,0.02],"nice":false,"zero":false},"axis":{"orient":"left","values":[-0.015,-0.005,0.005,0.015],"tickSize":-3,"labels":false,"title":null}}}},
{"data":{"values":[{}]},"mark":{"type":"text","text":"~ pH 2–2.5"},"encoding":{"x":{"datum":239,"type":"quantitative","scale":{"domain":[170,277.5],"nice":false,"zero":false},"axis":{"orient":"top","values":[170,174,178,182,186,190,194,198,202,206,210,214,218,222,226,230,234,238,242,246,250,254,258,262,266,270,274],"tickSize":-3,"labels":false,"title":null}},"y":{"datum":0.0093,"type":"quantitative","scale":{"domain":[-0.02,0.02],"nice":false,"zero":false},"axis":null}}}
]}
],
"config": {
"font": "Lato",
"view": {"stroke": null},
"axis": {"grid": false, "labelFont": "Lato", "labelFontSize": 15, "labelColor": "#333333", "tickColor": "#555555", "tickWidth": 1.3, "domainColor": "#555555", "domainWidth": 1.6, "titleFont": "Liberation Sans", "titleFontSize": 19, "titleFontWeight": "bold", "titleColor": "#333333"},
"title": {"font": "Lato", "fontSize": 19, "fontWeight": "normal", "color": "#222222", "anchor": "start", "frame": "group", "offset": 0, "baseline": "alphabetic", "dx": -80},
"text": {"font": "Liberation Sans", "fontSize": 19, "fontWeight": "bold", "color": "#111111", "align": "left", "baseline": "middle"}
}
}
